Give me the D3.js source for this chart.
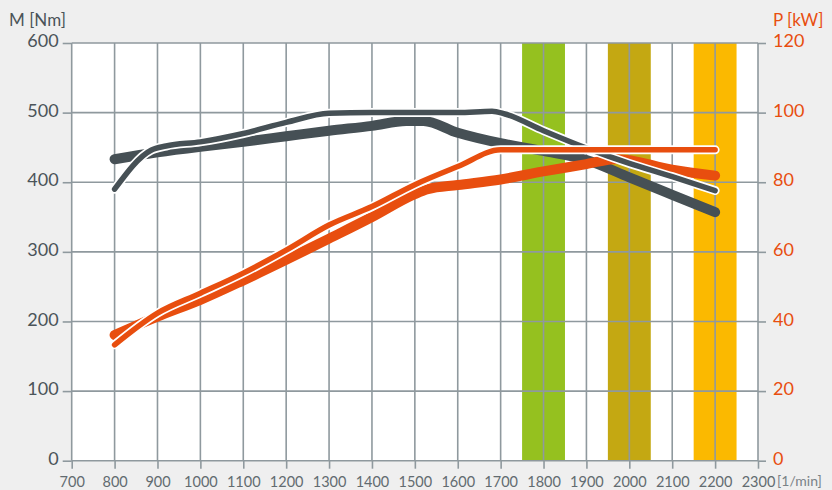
<!DOCTYPE html>
<html>
<head>
<meta charset="utf-8">
<script src="https://cdn.jsdelivr.net/npm/d3@7"></script>
<style>
  html, body { margin: 0; padding: 0; background: #efefef; }
  svg { display: block; }
  text { font-family: Lato, "Open Sans", sans-serif; }
</style>
</head>
<body>
<svg id="chart" width="832" height="490"></svg>
<script>
// ---- data ----
const xTicks = [700, 800, 900, 1000, 1100, 1200, 1300, 1400, 1500, 1600, 1700, 1800, 1900, 2000, 2100, 2200, 2300];
const torqueTicks = [0, 100, 200, 300, 400, 500, 600];
const powerTicks = [0, 20, 40, 60, 80, 100, 120];

// highlighted rpm bands [from, to]
const bandRanges = [[1750, 1850], [1950, 2050], [2150, 2250]];
const bandColors = ["#95c11f", "#c4a812", "#fbb900"];

// torque, thick line (Nm)
const torqueARpm = [800, 900, 1000, 1100, 1200, 1300, 1400, 1480, 1520, 1600, 1700, 1800, 1900, 2000, 2100, 2200];
const torqueA    = [433, 443, 451, 458, 466, 474, 481, 488, 488, 471, 456, 445, 432, 407, 382, 357];

// torque, thin line (Nm)
const torqueBRpm = [800, 885, 920, 1000, 1100, 1200, 1300, 1400, 1500, 1600, 1680, 1710, 1800, 1900, 2000, 2100, 2200];
const torqueB    = [390, 446, 452, 458, 470, 486, 499, 500, 500, 500, 502, 498, 474, 449, 427, 408, 388];

// power, thick line (kW)
const powerARpm = [800, 900, 1000, 1100, 1200, 1300, 1400, 1500, 1530, 1600, 1700, 1800, 1900, 1970, 2100, 2200];
const powerA    = [36.1, 41.4, 46.2, 51.8, 57.7, 63.8, 70.0, 76.6, 78.0, 79.2, 80.8, 83.1, 85.2, 86.7, 83.6, 81.9];

// power, thin line (kW)
const powerBRpm = [800, 900, 1000, 1100, 1200, 1300, 1400, 1500, 1600, 1700, 1800, 1900, 2000, 2100, 2200];
const powerB    = [33.3, 42.4, 48.1, 53.9, 60.5, 67.7, 73.0, 79.3, 84.5, 89.3, 89.3, 89.3, 89.3, 89.3, 89.3];

// ---- layout ----
const pLeft = 71.7, pRight = 758, pTop = 43, pBottom = 460.7;

const svg = d3.select("#chart");
const x = d3.scaleLinear().domain([700, 2300]).range([pLeft, pRight]);
const yT = d3.scaleLinear().domain([0, 600]).range([pBottom, pTop]);
const yP = d3.scaleLinear().domain([0, 120]).range([pBottom, pTop]);

const gray = "#465055";
const orange = "#e84e0f";
const gridCol = "#8f999e";

// plot background
svg.append("rect").attr("x", pLeft).attr("y", pTop)
  .attr("width", pRight - pLeft).attr("height", pBottom - pTop).attr("fill", "#ffffff");

// bands
svg.append("g").selectAll("rect").data(bandRanges).join("rect")
  .attr("x", d => x(d[0])).attr("y", pTop)
  .attr("width", d => x(d[1]) - x(d[0])).attr("height", pBottom - pTop)
  .attr("fill", (d, i) => bandColors[i]);

// grid
const grid = svg.append("g").attr("stroke", gridCol).attr("stroke-width", 1.6);
grid.selectAll(".v").data(xTicks).join("line").attr("class", "v")
  .attr("x1", d => x(d)).attr("x2", d => x(d)).attr("y1", pTop).attr("y2", pBottom);
grid.selectAll(".h").data(torqueTicks).join("line").attr("class", "h")
  .attr("x1", pLeft).attr("x2", pRight).attr("y1", d => yT(d)).attr("y2", d => yT(d));

// axes
const axB = svg.append("g").attr("transform", `translate(0,${pBottom})`)
  .call(d3.axisBottom(x).tickValues(xTicks).tickSize(8).tickPadding(5).tickFormat(d3.format("d")));
axB.select(".domain").remove();
axB.selectAll("line").attr("stroke", gridCol).attr("stroke-width", 1.6);
axB.selectAll("text").attr("fill", "#626b70").attr("font-size", 14.5).attr("dy", "0.9em");

const axL = svg.append("g").attr("transform", `translate(${pLeft},0)`)
  .call(d3.axisLeft(yT).tickValues(torqueTicks).tickSize(9).tickPadding(4).tickFormat(d3.format("d")));
axL.select(".domain").remove();
axL.selectAll("line").attr("stroke", gridCol).attr("stroke-width", 1.6);
axL.selectAll("text").attr("fill", "#4b5459").attr("font-size", 18).attr("dy", "0.2em");

const axR = svg.append("g").attr("transform", `translate(${pRight},0)`)
  .call(d3.axisRight(yP).tickValues(powerTicks).tickSize(8).tickPadding(7).tickFormat(d3.format("d")));
axR.select(".domain").remove();
axR.selectAll("line").attr("stroke", gridCol).attr("stroke-width", 1.6);
axR.selectAll("text").attr("fill", orange).attr("font-size", 18).attr("dy", "0.2em");

// axis titles
svg.append("text").attr("x", 9).attr("y", 26).attr("fill", "#4b5459").attr("font-size", 17).text("M [Nm]");
svg.append("text").attr("x", 773).attr("y", 26).attr("fill", orange).attr("font-size", 17).text("P [kW]");
svg.append("text").attr("x", 777).attr("y", 486).attr("fill", "#7a8287").attr("font-size", 14).text("[1/min]");

// lines
const lineT = d3.line().x(d => x(d[0])).y(d => yT(d[1])).curve(d3.curveMonotoneX);
const lineP = d3.line().x(d => x(d[0])).y(d => yP(d[1])).curve(d3.curveMonotoneX);
const zip = (a, b) => a.map((v, i) => [v, b[i]]);

const g = svg.append("g").attr("fill", "none").attr("stroke-linecap", "round").attr("stroke-linejoin", "round");

// thick torque
g.append("path").attr("d", lineT(zip(torqueARpm, torqueA))).attr("stroke", gray).attr("stroke-width", 10);
// thick power
g.append("path").attr("d", lineP(zip(powerARpm, powerA))).attr("stroke", orange).attr("stroke-width", 10);
// thin torque with white outline
g.append("path").attr("d", lineT(zip(torqueBRpm, torqueB))).attr("stroke", "#ffffff").attr("stroke-width", 9);
g.append("path").attr("d", lineT(zip(torqueBRpm, torqueB))).attr("stroke", gray).attr("stroke-width", 5.5);
// thin power with white outline
g.append("path").attr("d", lineP(zip(powerBRpm, powerB))).attr("stroke", "#ffffff").attr("stroke-width", 9);
g.append("path").attr("d", lineP(zip(powerBRpm, powerB))).attr("stroke", orange).attr("stroke-width", 5.5);
</script>
</body>
</html>
